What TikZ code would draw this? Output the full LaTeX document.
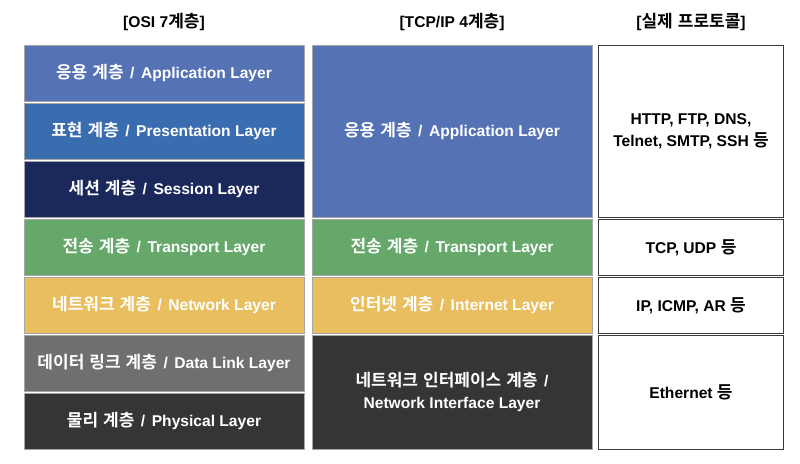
\documentclass[tikz,border=0pt]{standalone}
\usepackage{fontspec}
\setmainfont{Liberation Sans}
\newfontfamily\kr{Noto Sans CJK KR}[BoldFont={Noto Sans CJK KR Bold}, Scale=1.09, WordSpace=1.3]
\newcommand{\K}[1]{{\kr #1}}
\newcommand{\SL}{\hspace{6.5pt}/\hspace{6.5pt}}
\definecolor{appblue}{HTML}{5472B4}
\definecolor{presblue}{HTML}{3A6CB0}
\definecolor{sessnavy}{HTML}{1A285C}
\definecolor{trgreen}{HTML}{66A86A}
\definecolor{netyellow}{HTML}{E9BE5E}
\definecolor{dlgray}{HTML}{706E70}
\definecolor{phdark}{HTML}{363436}
\definecolor{boxline}{HTML}{3A3A3A}
\tikzset{
  layer/.style={anchor=north west, inner sep=0pt, outer sep=0pt, minimum width=280pt,
    draw=black!35, line width=0.5pt, text=white, font=\fontsize{15.6}{22}\selectfont\bfseries, align=center},
  proto/.style={anchor=north west, inner sep=0pt, outer sep=0pt, minimum width=185pt,
    draw=boxline, line width=0.9pt, fill=white, text=black, font=\fontsize{15.6}{22}\selectfont\bfseries, align=center},
  header/.style={font=\fontsize{15.6}{20}\selectfont\bfseries, text=black}
}
\begin{document}
\begin{tikzpicture}[x=1pt,y=-1pt]
\useasboundingbox[fill=white] (0,0) rectangle (800,463);
% headers
\node[header] (h1) at (164,22) {[OSI 7\K{계층}]};
\node[header] (h2) at (452,22) {[TCP/IP 4\K{계층}]};
\node[header] (h3) at (691,22) {[\K{실제 프로토콜}]};
% OSI column
\node[layer, fill=appblue,   minimum height=56pt] (o7) at (24,45)  {\K{응용 계층}\SL Application Layer};
\node[layer, fill=presblue,  minimum height=56pt] (o6) at (24,103) {\K{표현 계층}\SL Presentation Layer};
\node[layer, fill=sessnavy,  minimum height=56pt] (o5) at (24,161) {\K{세션 계층}\SL Session Layer};
\node[layer, fill=trgreen,   minimum height=56pt] (o4) at (24,219) {\K{전송 계층}\SL Transport Layer};
\node[layer, fill=netyellow, minimum height=56pt] (o3) at (24,277) {\K{네트워크 계층}\SL Network Layer};
\node[layer, fill=dlgray,    minimum height=56pt] (o2) at (24,335) {\K{데이터 링크 계층}\SL Data Link Layer};
\node[layer, fill=phdark,    minimum height=56pt] (o1) at (24,393) {\K{물리 계층}\SL Physical Layer};
% TCP/IP column
\node[layer, fill=appblue,   minimum height=172pt] (t4) at (312,45)  {\K{응용 계층}\SL Application Layer};
\node[layer, fill=trgreen,   minimum height=56pt]  (t3) at (312,219) {\K{전송 계층}\SL Transport Layer};
\node[layer, fill=netyellow, minimum height=56pt]  (t2) at (312,277) {\K{인터넷 계층}\SL Internet Layer};
\node[layer, fill=phdark,    minimum height=114pt] (t1) at (312,335) {\K{네트워크 인터페이스 계층}\hspace{6.5pt}/\\Network Interface Layer};
% protocols column
\node[proto, minimum height=172pt] (p4) at (598.5,45)  {HTTP, FTP, DNS,\\Telnet, SMTP, SSH \K{등}};
\node[proto, minimum height=56pt]  (p3) at (598.5,219.5) {TCP, UDP \K{등}};
\node[proto, minimum height=56pt]  (p2) at (598.5,277.5) {IP, ICMP, AR \K{등}};
\node[proto, minimum height=114pt] (p1) at (598.5,335.5) {Ethernet \K{등}};
\end{tikzpicture}
\end{document}
